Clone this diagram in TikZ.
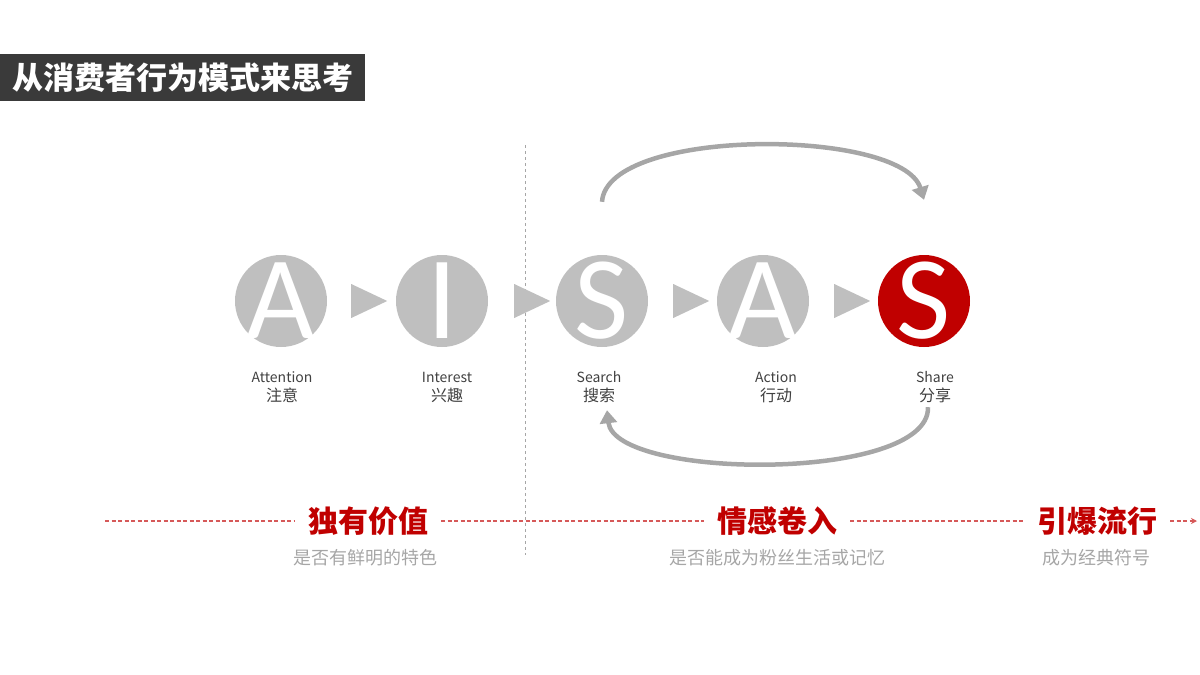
\documentclass[tikz,border=0pt]{standalone}
\usepackage{fontspec}
\setmainfont{Noto Sans CJK SC}
\newfontfamily\letterfont{Carlito}
\usetikzlibrary{shapes.geometric,arrows.meta,calc}

\definecolor{ringgray}{HTML}{BFBFBF}
\definecolor{arcgray}{HTML}{A6A6A6}
\definecolor{brandred}{HTML}{C00000}
\definecolor{titlegray}{HTML}{3A3A3A}
\definecolor{textgray}{HTML}{404040}

\begin{document}
\begin{tikzpicture}[x=1pt,y=-1pt,
  stage/.style={circle,fill=ringgray,minimum size=92pt,inner sep=0pt},
  letter/.style={text=white,inner sep=0pt,font=\letterfont\fontsize{118}{118}\selectfont},
  pointer/.style={isosceles triangle,isosceles triangle stretches,fill=ringgray,
    minimum height=36pt,minimum width=34pt,inner sep=0pt},
  steplabel/.style={align=center,text=textgray,font=\fontsize{14}{19}\selectfont},
  loop/.style={draw=arcgray,line width=4.5pt,-{Triangle[length=13pt,width=17pt]}},
  theme/.style={text=brandred,inner xsep=13pt,font=\bfseries\fontsize{30}{30}\selectfont},
  themesub/.style={text=arcgray,font=\fontsize{18}{18}\selectfont},
  guide/.style={draw=brandred!65,line width=1.1pt,dash pattern=on 4pt off 2.5pt}]
\useasboundingbox (0,0) rectangle (1200,675);
% title bar
\node[fill=titlegray,text=white,anchor=north west,minimum height=47pt,inner xsep=12pt,
  font=\bfseries\fontsize{31}{31}\selectfont] (title) at (0,54) {从消费者行为模式来思考};
% split between stages
\draw[arcgray,line width=0.8pt,dash pattern=on 3pt off 3pt] (525,145) -- (525,555);
% the five stages
\foreach \n/\x/\c in {a1/281/A,i1/442/I,s1/602/S,a2/763/A}
  \node[stage,label={[letter]center:\c}] (\n) at (\x,301) {};
\node[stage,fill=brandred,label={[letter]center:S}] (s2) at (924,301) {};
\foreach \p/\x in {p1/362,p2/525,p3/684,p4/845}
  \node[pointer] (\p) at (\x,301) {};
\foreach \n/\x/\en/\zh in {l1/282/Attention/注意,l2/447/Interest/兴趣,l3/599/Search/搜索,
    l4/776/Action/行动,l5/935/Share/分享}
  \node[steplabel] (\n) at (\x,387) {\en\\{\fontsize{16}{19}\selectfont\zh}};
% loops
\draw[loop] ([yshift=53pt]s1.north) .. controls +(5,-75) and +(-22,-72) .. ([yshift=55pt]s2.north);
\draw[loop] ($(s2.south)+(4,60)$) .. controls +(2,75) and +(8,70) .. ($(s1.south)+(5,63)$);
% bottom line
\coordinate (lineL) at (105,521);
\coordinate (lineR) at (1197,521);
\node[theme] (h1) at (368,521) {独有价值};
\node[theme] (h2) at (777,521) {情感卷入};
\node[theme] (h3) at (1097,521) {引爆流行};
\node[themesub] (d1) at (365,558) {是否有鲜明的特色};
\node[themesub] (d2) at (777,558) {是否能成为粉丝生活或记忆};
\node[themesub] (d3) at (1096,558) {成为经典符号};
\draw[guide] (lineL) -- (h1);
\draw[guide] (h1) -- (h2);
\draw[guide] (h2) -- (h3);
\draw[guide,-{Stealth[length=6pt,width=6pt]}] (h3) -- (lineR);
\end{tikzpicture}
\end{document}
